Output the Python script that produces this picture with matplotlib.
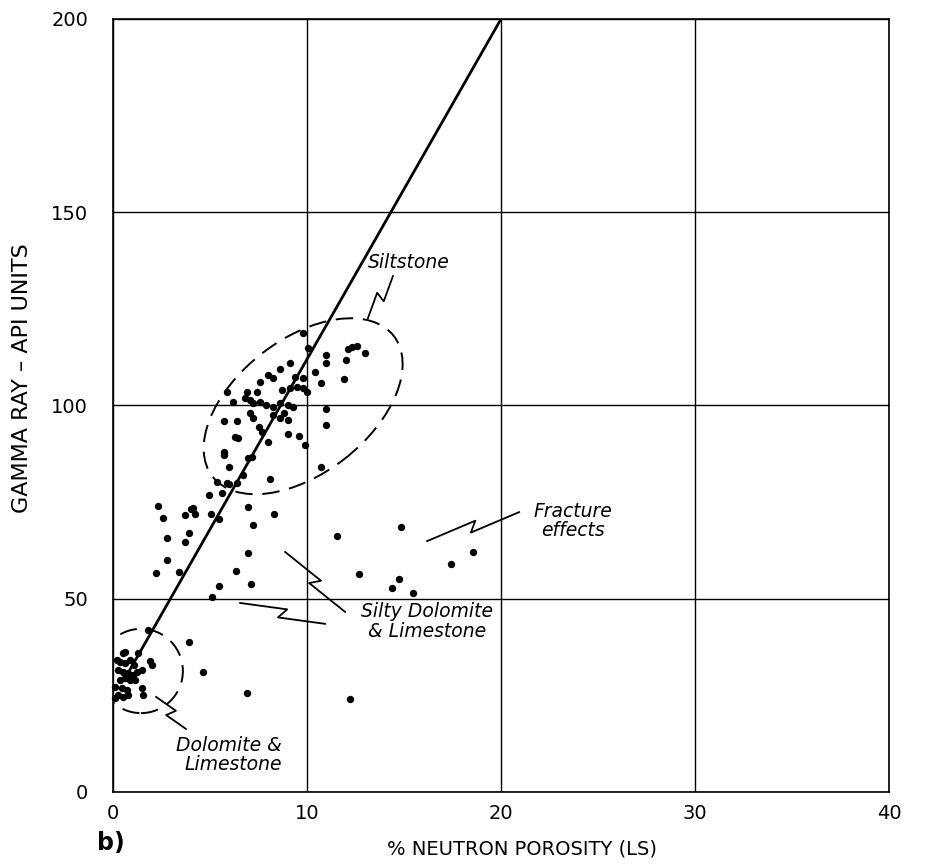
import numpy as np
import matplotlib
matplotlib.use("Agg")
import matplotlib.pyplot as plt
from matplotlib.patches import Ellipse

# siltstone cluster
silt_x = [9.8, 10.05, 11.0, 11.0, 12.3, 12.6, 12.1, 13.0, 12.0, 9.1, 8.6, 10.4, 8.0, 8.25,
          7.6, 9.4, 9.8, 10.7, 11.9, 5.9, 6.9, 7.4, 8.7, 9.1, 9.5, 9.8, 10.0, 6.2, 6.8, 7.05,
          7.2, 7.6, 7.9, 8.25, 8.6, 9.0, 9.3, 11.0, 7.05, 7.2, 7.5, 7.7, 8.25, 8.6, 8.8, 9.0,
          5.7, 6.4, 11.0, 6.3, 6.45, 9.0, 9.6, 9.9, 8.0, 5.7, 5.7, 6.95, 7.15, 6.0, 10.7, 6.7,
          5.35, 6.0, 8.1, 4.95, 5.6, 4.1, 6.95, 5.9, 6.4]
silt_y = [118.8, 114.9, 113.1, 111.0, 115.1, 115.4, 114.6, 113.6, 111.8, 111.0, 109.4, 108.7,
          107.9, 107.1, 106.1, 107.4, 107.1, 105.8, 106.9, 103.4, 103.4, 103.5, 104.0, 104.5,
          104.8, 104.5, 103.5, 100.9, 101.9, 101.4, 100.6, 100.9, 100.1, 99.6, 100.6, 100.1,
          99.6, 99.1, 98.1, 96.8, 94.4, 93.1, 97.6, 96.8, 98.1, 96.2, 96.0, 96.0, 95.0, 91.8,
          91.6, 92.6, 92.1, 89.8, 90.6, 88.0, 87.2, 86.4, 86.7, 84.1, 84.1, 82.0, 80.2, 79.7,
          81.0, 76.8, 77.4, 73.5, 73.7, 79.9, 79.9]

# silty dolomite / limestone and fracture effects
silty_x = [2.3, 2.6, 3.7, 4.0, 4.2, 5.05, 5.45, 8.3, 7.2, 2.8, 3.9, 3.7, 6.95, 2.8, 2.2, 3.4,
           6.35, 5.45, 7.1, 5.1, 11.55, 12.7, 14.85, 14.75, 14.4, 15.45, 17.4, 18.55,
           1.8, 3.9, 4.65, 6.9, 12.2]
silty_y = [74.0, 70.9, 71.7, 73.2, 71.9, 71.9, 70.6, 71.9, 69.1, 65.7, 67.0, 64.7, 61.8, 60.0,
           56.7, 56.9, 57.2, 53.3, 53.8, 50.5, 66.2, 56.4, 68.6, 55.1, 52.8, 51.5, 59.0, 62.1,
           41.9, 38.8, 31.0, 25.6, 24.1]

# dolomite & limestone cluster
dol_x = [0.5, 0.6, 1.3, 1.9, 2.0, 0.35, 0.6, 0.9, 0.25, 0.5, 0.75, 1.05, 1.25, 1.5, 0.35,
         0.6, 0.9, 1.15, 0.1, 0.45, 0.7, 0.25, 0.5, 0.75, 1.5, 1.55, 0.1, 0.2, 1.1]
dol_y = [36.0, 36.2, 36.0, 33.9, 32.9, 33.6, 33.4, 34.2, 31.6, 31.0, 30.8, 30.3, 31.0, 31.6,
         29.0, 29.5, 29.0, 29.0, 27.2, 26.9, 26.4, 25.1, 24.6, 25.1, 26.9, 25.1, 24.3, 34.2, 32.9]

trend_x = [0.8, 20.0]
trend_y = [31.0, 200.0]

plt.rcParams['font.family'] = ['DejaVu Sans']

fig = plt.figure(figsize=(9.28, 8.66), dpi=100)
ax = fig.add_axes([0.1218, 0.0855, 0.8362, 0.8926])
ax.set_xlim(0, 40)
ax.set_ylim(0, 200)

ax.set_xticks([0, 10, 20, 30, 40])
ax.set_yticks([0, 50, 100, 150, 200])
ax.tick_params(length=0, labelsize=14, colors="black")
ax.tick_params(axis="y", pad=18)
ax.tick_params(axis="x", pad=9)
ax.grid(True, color="black", linewidth=1.0)
for s in ax.spines.values():
    s.set_linewidth(1.2)

ax.plot(trend_x, trend_y, c="black", linewidth=2.0, zorder=3)

allx = silt_x + silty_x + dol_x
ally = silt_y + silty_y + dol_y
ax.scatter(allx, ally, s=28, c="black", linewidths=0, zorder=4, clip_on=False)

# dashed envelopes (in axes fraction)
e1 = Ellipse((0.245, 0.499), 0.296, 0.173, angle=38, transform=ax.transAxes,
             fill=False, ec="black", lw=1.4, ls=(0, (9, 5)), zorder=3)
ax.add_patch(e1)
e2 = Ellipse((0.036, 0.1565), 0.108, 0.109, transform=ax.transAxes,
             fill=False, ec="black", lw=1.4, ls=(0, (9, 5)), zorder=3)
ax.add_patch(e2)

fig.canvas.draw()


def zig(a, b):
    # pointer line with a small lightning jog in the middle
    pa = ax.transData.transform(a)
    pb = ax.transData.transform(b)
    d = pb - pa
    L = np.hypot(*d)
    n = np.array([-d[1], d[0]]) / L
    p1 = pa + 0.54 * d + 5 * n
    p2 = pa + 0.46 * d - 5 * n
    pts = np.array([pa, p1, p2, pb])
    pts = ax.transData.inverted().transform(pts)
    ax.plot(pts[:, 0], pts[:, 1], c="black", lw=1.3, zorder=3)


zig((14.43, 133.5), (13.14, 122.6))
zig((20.93, 72.4), (16.19, 64.9))
zig((11.96, 46.6), (8.87, 62.1))
zig((10.93, 43.5), (6.55, 48.9))
zig((3.76, 16.3), (2.22, 24.6))

tkw = dict(style="italic", fontsize=13.5, color="black")
ax.text(15.26, 137.1, "Siltstone", ha="center", va="center", **tkw)
ax.text(23.7, 70.1, "Fracture\neffects", ha="center", va="center", linespacing=1.0, **tkw)
ax.text(16.2, 44.2, "Silty Dolomite\n& Limestone", ha="center", va="center", linespacing=1.05, **tkw)
ax.text(8.7, 9.6, "Dolomite &\nLimestone", ha="right", va="center", multialignment="right",
        linespacing=1.0, **tkw)

ax.set_xlabel("% NEUTRON POROSITY (LS)", fontsize=14)
ax.xaxis.set_label_coords(0.527, -0.062)
ax.set_ylabel("GAMMA RAY – API UNITS", fontsize=16)
ax.yaxis.set_label_coords(-0.104, 0.535)

fig.text(97 / 928, 1 - 850 / 866, "b)", fontsize=17, fontweight="bold")

plt.savefig("out.png", dpi=100)
